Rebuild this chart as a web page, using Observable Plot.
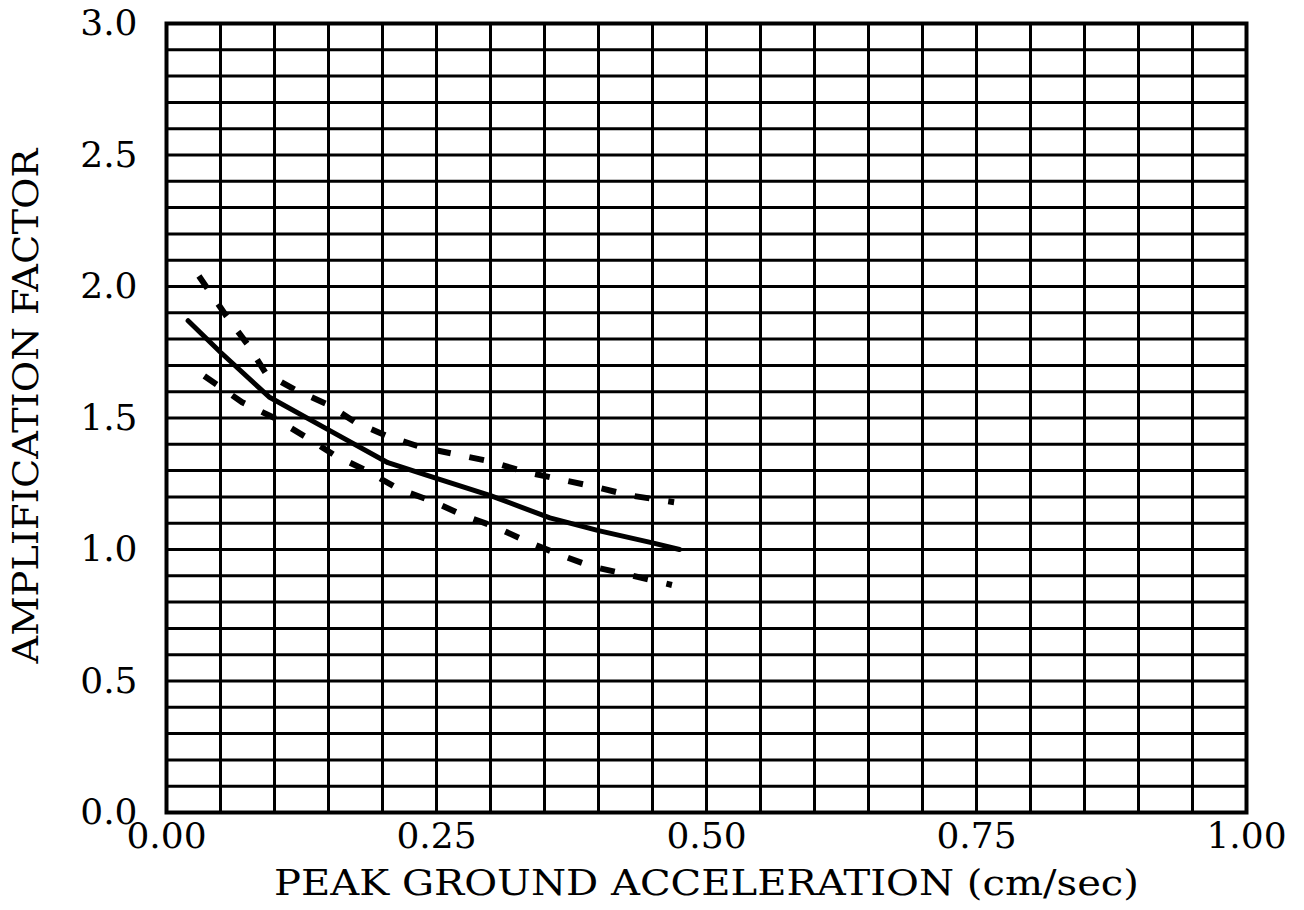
<!DOCTYPE html>
<html><head><meta charset="utf-8">
<script src="https://cdn.jsdelivr.net/npm/d3@7"></script>
<script src="https://cdn.jsdelivr.net/npm/@observablehq/plot@0.6"></script>
<style>body{margin:0;background:#fff} #chart svg{display:block;background:#fff}</style>
</head><body><div id="chart"></div>
<script>
// Tick labels
const xTicks = [0, 0.25, 0.5, 0.75, 1.0];
const yTicks = [0, 0.5, 1.0, 1.5, 2.0, 2.5, 3.0];
const xLabel = "PEAK GROUND ACCELERATION (cm/sec)";
const yLabel = "AMPLIFICATION FACTOR";

// Mean curve (solid)
const meanPGA = [0.02, 0.05, 0.095, 0.15, 0.205, 0.25, 0.30, 0.355, 0.40, 0.45, 0.475];
const meanAmp = [1.87, 1.75, 1.58, 1.455, 1.33, 1.27, 1.205, 1.12, 1.072, 1.025, 1.0];

// Upper bound (dashed)
const upperPGA = [0.03, 0.055, 0.075, 0.092, 0.12, 0.15, 0.175, 0.205, 0.235, 0.27, 0.30, 0.33, 0.365, 0.395, 0.43, 0.47];
const upperAmp = [2.04, 1.89, 1.78, 1.67, 1.605, 1.55, 1.483, 1.43, 1.39, 1.36, 1.335, 1.297, 1.266, 1.24, 1.205, 1.18];

// Lower bound (dashed)
const lowerPGA = [0.035, 0.07, 0.10, 0.13, 0.155, 0.185, 0.215, 0.245, 0.275, 0.305, 0.334, 0.366, 0.394, 0.427, 0.468];
const lowerAmp = [1.66, 1.56, 1.50, 1.425, 1.36, 1.30, 1.23, 1.185, 1.13, 1.085, 1.03, 0.977, 0.935, 0.905, 0.865];

const toRows = (xs, ys) => xs.map((x, i) => ({x, y: ys[i]}));
const mean = toRows(meanPGA, meanAmp);
const upper = toRows(upperPGA, upperAmp);
const lower = toRows(lowerPGA, lowerAmp);

// grid every 0.05 in x and 0.1 in y
const gridX = d3.range(0, 21).map(i => i / 20);
const gridY = d3.range(0, 31).map(i => i / 10);

const font = "'DejaVu Serif', serif";

const chart = Plot.plot({
  width: 1304,
  height: 910,
  marginLeft: 166,
  marginRight: 58,
  marginTop: 23,
  marginBottom: 98,
  style: {fontFamily: font, fontSize: "36px", color: "#000", background: "#fff"},
  x: {domain: [0, 1]},
  y: {domain: [0, 3]},
  marks: [
    Plot.gridX(gridX, {stroke: "#000", strokeOpacity: 1, strokeWidth: 3}),
    Plot.gridY(gridY, {stroke: "#000", strokeOpacity: 1, strokeWidth: 3}),
    Plot.frame({stroke: "#000", strokeWidth: 4}),
    Plot.axisX(xTicks, {tickSize: 0, tickPadding: 10, tickFormat: d3.format(".2f"), fontSize: 36,
      label: xLabel, labelAnchor: "center", labelArrow: "none", labelOffset: 82}),
    Plot.axisY(yTicks, {tickSize: 0, tickPadding: 29, tickFormat: d3.format(".1f"), fontSize: 36,
      label: yLabel, labelAnchor: "center", labelArrow: "none", labelOffset: 154}),
    Plot.line(upper, {x: "x", y: "y", stroke: "#000", strokeWidth: 6, strokeDasharray: "15,19", strokeLinecap: "butt"}),
    Plot.line(lower, {x: "x", y: "y", stroke: "#000", strokeWidth: 6, strokeDasharray: "15,19", strokeLinecap: "butt"}),
    Plot.line(mean, {x: "x", y: "y", stroke: "#000", strokeWidth: 5, curve: "linear"})
  ]
});
document.getElementById("chart").append(chart);

// stretch the axis titles to the width of the original lettering
const xl = chart.querySelector('g[aria-label="x-axis label"] text');
if (xl) { xl.setAttribute("textLength", 865); xl.setAttribute("lengthAdjust", "spacingAndGlyphs"); }
const yl = chart.querySelector('g[aria-label="y-axis label"] text');
if (yl) { yl.setAttribute("textLength", 515); yl.setAttribute("lengthAdjust", "spacingAndGlyphs"); yl.setAttribute("dx", 12); }
</script>
</body></html>
